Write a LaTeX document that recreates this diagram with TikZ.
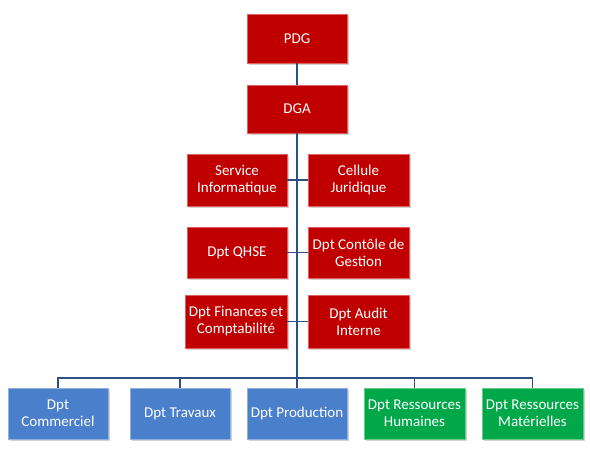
\documentclass[tikz,border=0pt]{standalone}
\usepackage{fontspec}
\setmainfont{Carlito}
\usetikzlibrary{shadows}
\definecolor{redfill}{HTML}{C00000}
\definecolor{redline}{HTML}{E06060}
\definecolor{bluefill}{HTML}{4A7FCB}
\definecolor{blueline}{HTML}{8FB0E0}
\definecolor{greenfill}{HTML}{00A84A}
\definecolor{greenline}{HTML}{66CC8A}
\definecolor{conn}{HTML}{2E4F86}
\begin{document}
\begin{tikzpicture}[x=1pt,y=-1pt,
  box/.style={minimum width=100pt, minimum height=50pt, align=center, text=white,
    font=\fontsize{15}{17}\selectfont, inner sep=0pt, line width=0.8pt,
    drop shadow={opacity=0.35, shadow xshift=1.5pt, shadow yshift=-1.5pt}},
  redbox/.style={box, fill=redfill, draw=redline},
  bluebox/.style={box, fill=bluefill, draw=blueline},
  greenbox/.style={box, fill=greenfill, draw=greenline},
  link/.style={draw=conn, line width=1.8pt}]
\useasboundingbox (0,0) rectangle (590,458);
\fill[white] (0,0) rectangle (590,458);
\coordinate (busl) at (58,378);
\coordinate (busr) at (532.5,378);
\node[redbox, minimum height=49pt] (pdg) at (297,38.5) {PDG};
\node[redbox, minimum height=48pt] (dga) at (297,109) {DGA};
\node[redbox, minimum height=52pt] (si) at (237,180) {Service\\Informatique};
\node[redbox, minimum width=101pt, minimum height=52pt] (cj) at (358.5,180) {Cellule\\Juridique};
\node[redbox, minimum height=51pt] (qhse) at (237,252.5) {Dpt QHSE};
\node[redbox, minimum width=101pt, minimum height=51pt] (cg) at (358.5,252.5) {Dpt Contôle de\\Gestion};
\node[redbox, minimum width=102pt, minimum height=53pt] (fin) at (236,321.5) {Dpt Finances et\\Comptabilité};
\node[redbox, minimum width=101pt, minimum height=53pt] (audit) at (358.5,321.5) {Dpt Audit\\Interne};
\node[bluebox, minimum height=51pt] (com) at (58,413.5) {Dpt\\Commerciel};
\node[bluebox, minimum height=51pt] (trav) at (180,413.5) {Dpt Travaux};
\node[bluebox, minimum height=51pt] (prod) at (297,413.5) {Dpt Production};
\node[greenbox, minimum width=101pt, minimum height=51pt] (rh) at (414.5,413.5) {Dpt Ressources\\Humaines};
\node[greenbox, minimum width=101pt, minimum height=51pt] (rm) at (532.5,413.5) {Dpt Ressources\\Matérielles};
\path[link] (pdg.south) -- (dga.north);
\path[link] (dga.south) -- (prod.north);
\path[link] (si.east) -- (si.east -| dga.south);
\path[link] (cj.west) -- (cj.west -| dga.south);
\path[link] (qhse.east) -- (qhse.east -| dga.south);
\path[link] (cg.west) -- (cg.west -| dga.south);
\path[link] (fin.east) -- (fin.east -| dga.south);
\path[link] (audit.west) -- (audit.west -| dga.south);
\path[link] (com.north) -- (com.north |- busl) -- (rm.north |- busr) -- (rm.north);
\path[link] (trav.north) -- (trav.north |- busl);
\path[link] (rh.north) -- (rh.north |- busl);
\end{tikzpicture}
\end{document}
